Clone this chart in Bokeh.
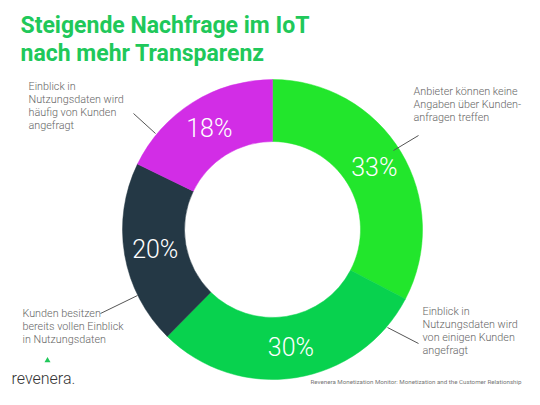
import math
from bokeh.plotting import figure
from bokeh.models import Range1d, ColumnDataSource
from bokeh.core.properties import value
from bokeh.embed import file_html
from bokeh.resources import INLINE

# data
shares = [33, 30, 20, 18]
share_labels = ["33%", "30%", "20%", "18%"]
colors = ["#22e62c", "#08d24e", "#243845", "#d22de6"]
label_lines = [
    ["Anbieter können keine", "Angaben über Kunden-", "anfragen treffen"],
    ["Einblick in", "Nutzungsdaten wird", "von einigen Kunden", "angefragt"],
    ["Kunden besitzen", "bereits vollen Einblick", "in Nutzungsdaten"],
    ["Einblick in", "Nutzungsdaten wird", "häufig von Kunden", "angefragt"],
]
title_lines = ["Steigende Nachfrage im IoT", "nach mehr Transparenz"]
source_note = "Revenera Monetization Monitor: Monetization and the Customer Relationship"

H = 405  # page height, used to flip y so positions read top-down


def fy(y):
    return H - y


cx, cy = 272, fy(229)
r_out, r_in = 150, 88
r_lab = (r_out + r_in) / 2

total = sum(shares)
starts, ends, lx, ly = [], [], [], []
acc = 0
for s in shares:
    a0 = acc / total * 2 * math.pi
    a1 = (acc + s) / total * 2 * math.pi
    # clockwise from 12 o'clock
    starts.append(math.pi / 2 - a1)
    ends.append(math.pi / 2 - a0)
    mid = (a0 + a1) / 2
    lx.append(cx + r_lab * math.sin(mid))
    ly.append(cy + r_lab * math.cos(mid))
    acc += s

p = figure(width=524, height=389, output_backend="svg", toolbar_location=None,
           x_range=Range1d(0, 524), y_range=Range1d(fy(389), fy(0)),
           min_border=0)
p.axis.visible = False
p.grid.visible = False
p.outline_line_color = None
p.background_fill_color = "white"

src = ColumnDataSource(dict(start=starts, end=ends, color=colors,
                            lx=lx, ly=ly, lab=share_labels))
p.annular_wedge(x=cx, y=cy, inner_radius=r_in, outer_radius=r_out,
                start_angle="start", end_angle="end", fill_color="color",
                line_color="color", line_width=0.5, source=src)
p.text(x="lx", y="ly", text="lab", source=src, text_color="white",
       text_font=value("Roboto Light"), text_font_size="25px",
       text_align="center", text_baseline="middle")

# title
for i, t in enumerate(title_lines):
    p.text(x=[20], y=[fy(25 + 28 * i)], text=[t], text_color="#20c85a",
           text_font=value("Roboto"), text_font_style="bold",
           text_font_size="23px", text_baseline="alphabetic")

# callouts: text anchor and leader line per slice
text_pos = [(413, 91), (422, 311), (22, 313), (28, 86)]
leaders = [((418, 135), (393, 150)), ((387, 327), (418, 343)),
           ((100, 313), (137, 295)), ((133, 113), (155, 133))]
for (tx, ty), lines in zip(text_pos, label_lines):
    p.text(x=[tx] * len(lines), y=[fy(ty + 13 * k) for k in range(len(lines))],
           text=lines, text_color="#666666", text_font=value("Roboto Light"),
           text_font_size="10.8px", text_baseline="middle")
for (a, b) in leaders:
    p.line(x=[a[0], b[0]], y=[fy(a[1]), fy(b[1])], line_color="#555555",
           line_width=1)

# footer
p.text(x=[11], y=[fy(378)], text=["revenera."], text_color="#333333",
       text_font=value("Roboto Light"), text_font_size="16px",
       text_baseline="alphabetic")
p.scatter(x=[47], y=[fy(360)], marker="triangle", size=6, fill_color="#20c85a",
          line_color=None)
p.text(x=[521], y=[fy(381)], text=[source_note], text_color="#777777",
       text_font=value("Roboto"), text_font_size="6.2px",
       text_align="right", text_baseline="middle")

open("out.html", "w").write(file_html(p, INLINE))
